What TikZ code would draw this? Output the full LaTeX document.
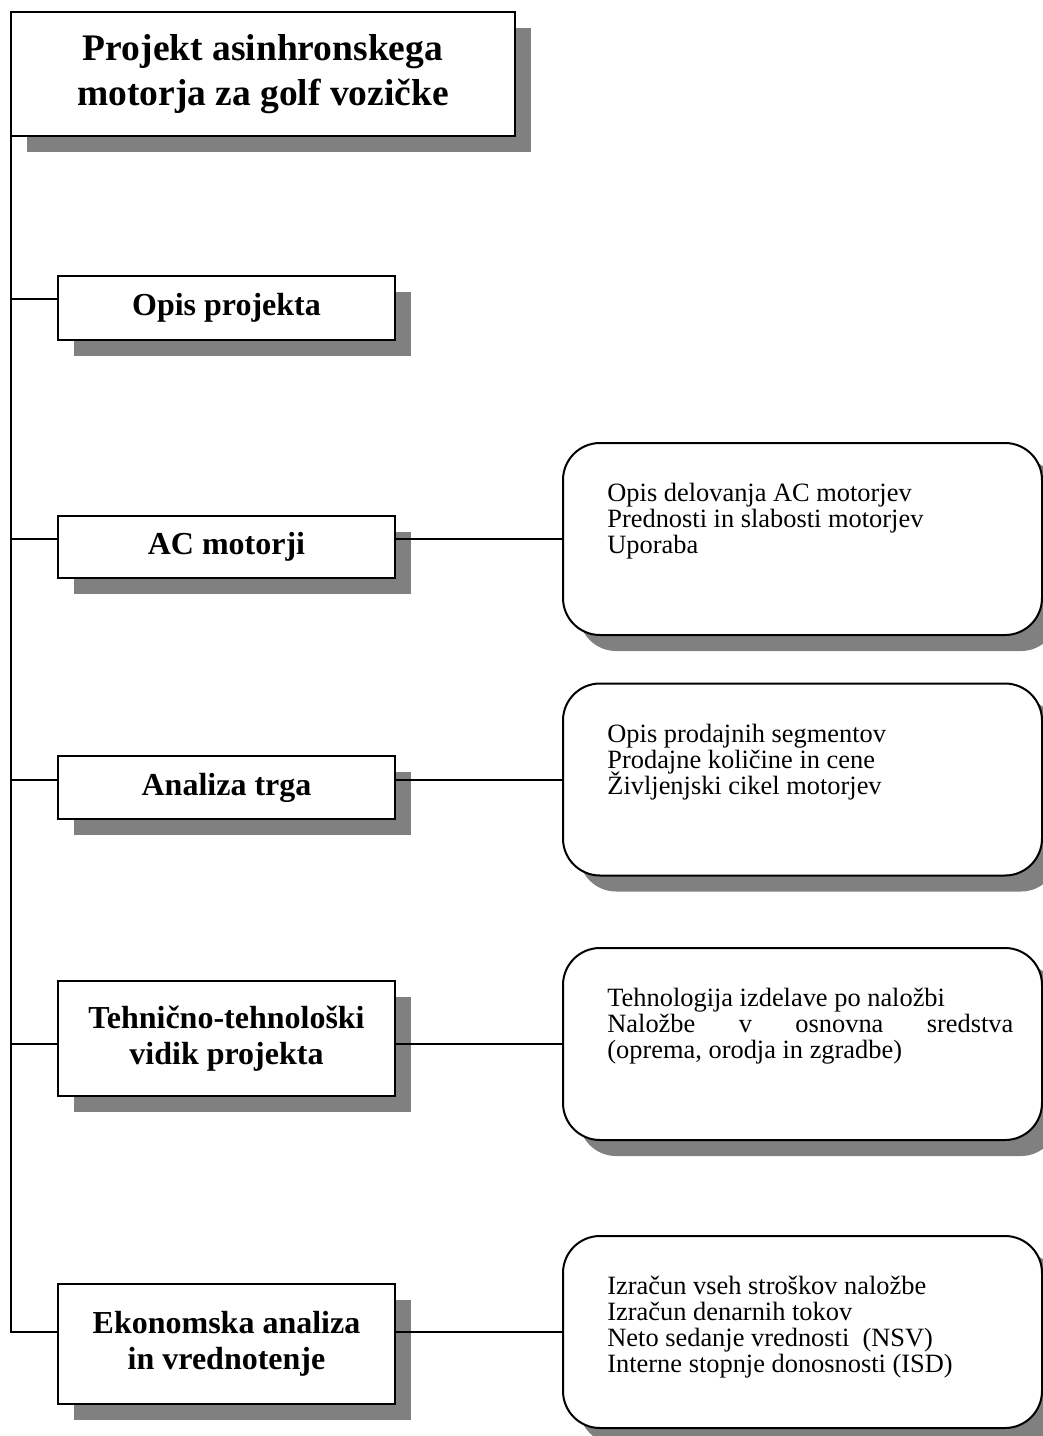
\documentclass[tikz,border=0pt]{standalone}
\usepackage{fontspec}
\setmainfont{Liberation Serif}
\usetikzlibrary{shadows,calc}
\definecolor{shadowgray}{HTML}{808080}
\newcommand\mytightlines{\lineskiplimit=-20pt\relax\lineskip=0pt\relax}
\begin{document}
\begin{tikzpicture}[x=0.5pt,y=-0.5pt,
  conn/.style={line width=1pt},
  shadowed/.style={drop shadow={shadow xshift=8pt,shadow yshift=-8pt,fill=shadowgray,opacity=1}},
  mainbox/.style={draw,line width=1pt,fill=white,shadowed,outer sep=0pt,minimum width=252pt,minimum height=62pt,inner sep=0pt,align=center,font=\fontsize{18.75pt}{22.5pt}\selectfont\bfseries},
  sectbox/.style={draw,line width=1pt,fill=white,shadowed,outer sep=0pt,minimum width=168.5pt,inner sep=0pt,align=center,font=\fontsize{16pt}{18pt}\selectfont\bfseries},
  detailbox/.style={draw,line width=1pt,fill=white,shadowed,outer sep=0pt,rounded corners=18.5pt,minimum width=239.5pt,minimum height=96pt,inner sep=0pt},
  detailtext/.style={anchor=north west,inner sep=0pt,align=left,font=\fontsize{13.2pt}{13pt}\selectfont\mytightlines}
]
\useasboundingbox (0,0) rectangle (1043,1436);

% main title box
\node[mainbox] (title) at (263,74) {Projekt asinhronskega\\motorja za golf vozičke};

% section boxes
\node[sectbox,minimum height=32pt] (opis) at (226.5,308) {Opis projekta};
\node[sectbox,minimum height=31pt] (ac) at (226.5,547) {AC motorji};
\node[sectbox,minimum height=31.5pt] (trg) at (226.5,787.5) {Analiza trga};
\node[sectbox,minimum height=57.5pt] (teh) at (226.5,1038.5) {Tehnično-tehnološki\\vidik projekta};
\node[sectbox,minimum height=60pt] (eko) at (226.5,1344) {Ekonomska analiza\\in vrednotenje};

% detail boxes
\node[detailbox] (rb1) at (802.5,539) {};
\node[detailbox] (rb2) at (802.5,779.5) {};
\node[detailbox] (rb3) at (802.5,1044) {};
\node[detailbox] (rb4) at (802.5,1332) {};

\node[detailtext] (t1) at ($(rb1.north west)+(44,40)$) {Opis delovanja AC motorjev\\Prednosti in slabosti motorjev\\Uporaba};
\node[detailtext] (t2) at ($(rb2.north west)+(44,40)$) {Opis prodajnih segmentov\\Prodajne količine in cene\\Življenjski cikel motorjev};
\node[detailtext] (t3) at ($(rb3.north west)+(44,40)$) {Tehnologija izdelave po naložbi\\\makebox[203pt][s]{Naložbe v osnovna sredstva}\\(oprema, orodja in zgradbe)};
\node[detailtext] (t4) at ($(rb4.north west)+(44,40)$) {Izračun vseh stroškov naložbe\\Izračun denarnih tokov\\Neto sedanje vrednosti~ (NSV)\\Interne stopnje donosnosti (ISD)};

% connectors
\coordinate (j0) at ($(opis.north west)+(0,23)$);
\draw[conn] (title.south west) |- (eko.west |- rb4.west);
\draw[conn] (j0 -| title.west) -- (j0);
\draw[conn] (title.west |- rb1.west) -- (ac.west |- rb1.west);
\draw[conn] (ac.east |- rb1.west) -- (rb1.west);
\draw[conn] (title.west |- rb2.west) -- (trg.west |- rb2.west);
\draw[conn] (trg.east |- rb2.west) -- (rb2.west);
\draw[conn] (title.west |- rb3.west) -- (teh.west |- rb3.west);
\draw[conn] (teh.east |- rb3.west) -- (rb3.west);
\draw[conn] (eko.east |- rb4.west) -- (rb4.west);
\end{tikzpicture}
\end{document}
